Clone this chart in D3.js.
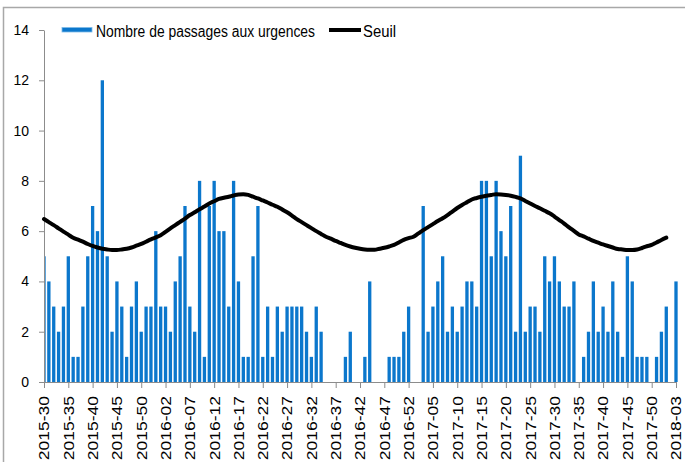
<!DOCTYPE html>
<html>
<head>
<meta charset="utf-8">
<script src="https://cdn.jsdelivr.net/npm/d3@7"></script>
<style>
  html, body { margin: 0; padding: 0; background: #fff; }
  svg { display: block; font-family: "Liberation Sans", Arial, sans-serif; }
</style>
</head>
<body>
<svg id="chart" width="685" height="462"></svg>
<script>
// weeks 2015-30 .. 2018-03 (2015 has 53 ISO weeks)
const yearSpans = [[2015, 30, 53], [2016, 1, 52], [2017, 1, 52], [2018, 1, 3]];
const weeks = [];
yearSpans.forEach(([yr, a, b]) => {
    for (let w = a; w <= b; w++) weeks.push(yr + "-" + String(w).padStart(2, "0"));
});

// Nombre de passages aux urgences, one per week
const passages = [
    5, 4, 3, 2, 3, 5, 1, 1, 3, 5, 7, 6, 12, 5, 2, 4, 3, 1, 3, 4, 2, 3, 3, 6,
    3, 3, 2, 4, 5, 7, 3, 2, 8, 1, 7, 8, 6, 6, 3, 8, 4, 1, 1, 5, 7, 1, 3, 1, 3, 2,
    3, 3, 3, 3, 2, 1, 3, 2, 0, 0, 0, 0, 1, 2, 0, 0, 1, 4, 0, 0, 0, 1, 1, 1, 2, 3,
    0, 0, 7, 2, 3, 4, 5, 2, 3, 2, 3, 4, 4, 3, 8, 8, 5, 8, 6, 5, 7, 2, 9, 2,
    3, 3, 2, 5, 4, 5, 4, 3, 3, 4, 0, 1, 2, 4, 2, 3, 2, 4, 2, 1, 5, 4, 1, 1, 1, 0,
    1, 2, 3, 0, 4
];

// Seuil (stops at 2018-01)
const seuil = [
    6.48, 6.36, 6.24, 6.11, 5.98, 5.86, 5.74, 5.66, 5.58, 5.49, 5.41, 5.35, 5.30, 5.27,
    5.25, 5.25, 5.27, 5.30, 5.35, 5.42, 5.49, 5.58, 5.67, 5.75, 5.84, 5.97, 6.11, 6.24,
    6.37, 6.50, 6.64, 6.75, 6.87, 6.98, 7.10, 7.19, 7.28, 7.33, 7.37, 7.42, 7.46, 7.47,
    7.44, 7.37, 7.30, 7.22, 7.14, 7.05, 6.97, 6.86, 6.75, 6.62, 6.48, 6.36, 6.24, 6.12,
    6.00, 5.89, 5.78, 5.70, 5.61, 5.53, 5.45, 5.39, 5.34, 5.30, 5.27, 5.26, 5.26, 5.30,
    5.34, 5.39, 5.45, 5.55, 5.65, 5.72, 5.78, 5.91, 6.04, 6.16, 6.28, 6.40, 6.51, 6.64,
    6.78, 6.92, 7.04, 7.15, 7.26, 7.32, 7.37, 7.41, 7.44, 7.47, 7.46, 7.44, 7.41, 7.36,
    7.30, 7.20, 7.10, 7.00, 6.91, 6.81, 6.71, 6.58, 6.44, 6.30, 6.15, 6.01, 5.87, 5.79,
    5.70, 5.61, 5.54, 5.47, 5.41, 5.35, 5.29, 5.27, 5.25, 5.25, 5.27, 5.33, 5.40, 5.45,
    5.55, 5.65, 5.74
];

const yTicks = [0, 2, 4, 6, 8, 10, 12, 14];
const barLabel = "Nombre de passages aux urgences";
const lineLabel = "Seuil";

const svg = d3.select("#chart");
const plotL = 44, plotR = 676, plotT = 30, plotB = 382;
const blue = "#0b77cc", axisCol = "#8c8c8c";

// outer frame (top + left edges visible)
svg.append("path").attr("d", "M3.5,462V7.5H685")
    .attr("fill", "none").attr("stroke", "#a8a8a8").attr("stroke-width", 1.5);

const x = d3.scalePoint().domain(weeks).range([plotL, plotR]);
const y = d3.scaleLinear().domain([0, 14]).range([plotB, plotT]);
const bw = x.step() * 0.68;

svg.append("clipPath").attr("id", "plot")
    .append("rect").attr("x", plotL).attr("y", 0).attr("width", 685 - plotL).attr("height", plotB + 1);

// bars
svg.append("g").attr("clip-path", "url(#plot)")
    .selectAll("rect").data(passages).enter().append("rect")
    .attr("x", (d, i) => x(weeks[i]) - bw / 2)
    .attr("y", d => y(d))
    .attr("width", bw)
    .attr("height", d => y(0) - y(d))
    .attr("fill", blue);

// y axis
const yAxis = svg.append("g").attr("transform", `translate(${plotL},0)`)
    .call(d3.axisLeft(y).tickValues(yTicks).tickSize(5).tickSizeOuter(0).tickPadding(10));
yAxis.select(".domain").attr("stroke", axisCol);
yAxis.selectAll(".tick line").attr("stroke", axisCol);
yAxis.selectAll(".tick text").style("font-size", "14px").attr("fill", "#000")
    .style("font-family", "'Liberation Sans', Arial, sans-serif");

// x axis
const labelWeeks = weeks.filter((d, i) => i % 5 === 0);
const xAxis = svg.append("g").attr("transform", `translate(0,${plotB})`)
    .call(d3.axisBottom(x).tickValues(labelWeeks).tickSize(6).tickSizeOuter(0));
xAxis.select(".domain").attr("stroke", axisCol);
xAxis.selectAll(".tick line").attr("stroke", axisCol);
xAxis.selectAll(".tick text").remove();
xAxis.selectAll(".tick").append("text")
    .attr("transform", "translate(0,14) rotate(-90) scale(1.25,1)")
    .attr("text-anchor", "end")
    .attr("dy", "0.35em")
    .attr("fill", "#000")
    .style("font-size", "14px")
    .style("font-family", "'Liberation Sans', Arial, sans-serif")
    .text(d => d);

// seuil line
const line = d3.line()
    .x((d, i) => x(weeks[i]))
    .y(d => y(d))
    .curve(d3.curveMonotoneX);
svg.append("path").datum(seuil)
    .attr("d", line)
    .attr("fill", "none").attr("stroke", "#000")
    .attr("stroke-width", 4).attr("stroke-linejoin", "round").attr("stroke-linecap", "round");

// legend
const lg = svg.append("g");
lg.append("rect").attr("x", 62).attr("y", 27.5).attr("width", 30).attr("height", 4.5)
    .attr("fill", blue).attr("stroke", "#7fbbe8").attr("stroke-width", 0.8);
lg.append("text").attr("x", 96).attr("y", 36.5)
    .attr("textLength", 219).attr("lengthAdjust", "spacingAndGlyphs")
    .style("font-size", "16px").text(barLabel);
lg.append("line").attr("x1", 329).attr("x2", 361).attr("y1", 30).attr("y2", 30)
    .attr("stroke", "#000").attr("stroke-width", 4);
lg.append("text").attr("x", 363).attr("y", 36.5)
    .attr("textLength", 33).attr("lengthAdjust", "spacingAndGlyphs")
    .style("font-size", "16px").text(lineLabel);
</script>
</body>
</html>
